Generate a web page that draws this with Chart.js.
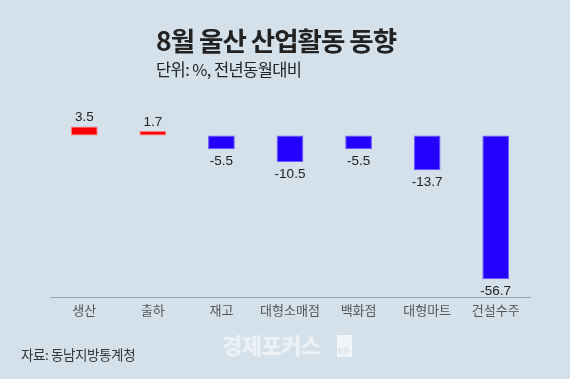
<!DOCTYPE html>
<html>
<head>
<meta charset="utf-8">
<script src="https://cdn.jsdelivr.net/npm/chart.js@4"></script>
<style>
  html, body { margin:0; padding:0; }
  body { width:570px; height:379px; background:#d5e1ea; position:relative; overflow:hidden; font-family:"Noto Sans CJK KR", sans-serif; }
  #wrap { position:absolute; left:0; top:0; width:570px; height:379px; }
  .title { position:absolute; left:156px; top:27px; font-size:26.5px; font-weight:700; color:#222; letter-spacing:-1px; white-space:nowrap; line-height:1; }
  .sub { position:absolute; left:156px; top:61px; font-size:16.5px; color:#222; letter-spacing:-0.6px; white-space:nowrap; line-height:1; }
  .src { position:absolute; left:21px; top:348px; font-size:13.5px; color:#333; letter-spacing:-0.4px; white-space:nowrap; line-height:1; }
  .wm { position:absolute; left:222px; top:333px; font-size:22px; font-weight:900; color:rgba(255,255,255,0.55); letter-spacing:-0.5px; white-space:nowrap; line-height:1; }
  .logo { position:absolute; left:337px; top:335px; width:15px; height:22px; background:rgba(255,255,255,0.7); }
  .logo span { position:absolute; left:1px; bottom:1px; font-size:9px; font-family:"Liberation Sans", sans-serif; font-weight:700; color:#d5e1ea; line-height:1; }
</style>
</head>
<body>
<div id="wrap"><canvas id="c" width="570" height="379"></canvas></div>
<div class="title">8월 울산 산업활동 동향</div>
<div class="sub">단위: %, 전년동월대비</div>
<div class="src">자료: 동남지방통계청</div>
<div class="wm">경제포커스</div>
<div class="logo"><span>Efi</span></div>
<script>
const categories = ["생산", "출하", "재고", "대형소매점", "백화점", "대형마트", "건설수주"];
const values = [3.5, 1.7, -5.5, -10.5, -5.5, -13.7, -56.7];
const valueLabels = ["3.5", "1.7", "-5.5", "-10.5", "-5.5", "-13.7", "-56.7"];

const fillColors = values.map(v => v >= 0 ? "#ff0000" : "#2400ff");
const edgeColors = values.map(v => v >= 0 ? "#ff7a7a" : "#6b5cff");

const labelPlugin = {
  id: "valueLabels",
  afterDatasetsDraw(chart) {
    const ctx = chart.ctx;
    const meta = chart.getDatasetMeta(0);
    ctx.save();
    ctx.font = "13.5px 'Liberation Sans', Arial, sans-serif";
    ctx.fillStyle = "#222";
    ctx.textAlign = "center";
    meta.data.forEach((bar, i) => {
      const v = values[i];
      if (v >= 0) {
        ctx.textBaseline = "bottom";
        ctx.fillText(valueLabels[i], bar.x, bar.y - 2);
      } else {
        ctx.textBaseline = "top";
        ctx.fillText(valueLabels[i], bar.x, bar.y + 5);
      }
    });
    ctx.restore();
  }
};

new Chart(document.getElementById("c"), {
  type: "bar",
  data: {
    labels: categories,
    datasets: [{
      data: values,
      backgroundColor: fillColors,
      borderColor: edgeColors,
      borderWidth: 1,
      borderSkipped: false,
      categoryPercentage: 1,
      barPercentage: 0.39
    }]
  },
  options: {
    responsive: false,
    animation: false,
    devicePixelRatio: 1,
    layout: { padding: { left: 50, right: 40, top: 110, bottom: 56 } },
    plugins: { legend: { display: false }, tooltip: { enabled: false }, title: { display: false } },
    scales: {
      x: {
        grid: { display: false, drawTicks: false },
        border: { display: true, color: "#9aa6b0", width: 1 },
        ticks: { color: "#555", font: { family: "'Noto Sans CJK KR'", size: 13 }, padding: 5, maxRotation: 0 }
      },
      y: { display: false, min: -63.8, max: 10 }
    }
  },
  plugins: [labelPlugin]
});
</script>
</body>
</html>
